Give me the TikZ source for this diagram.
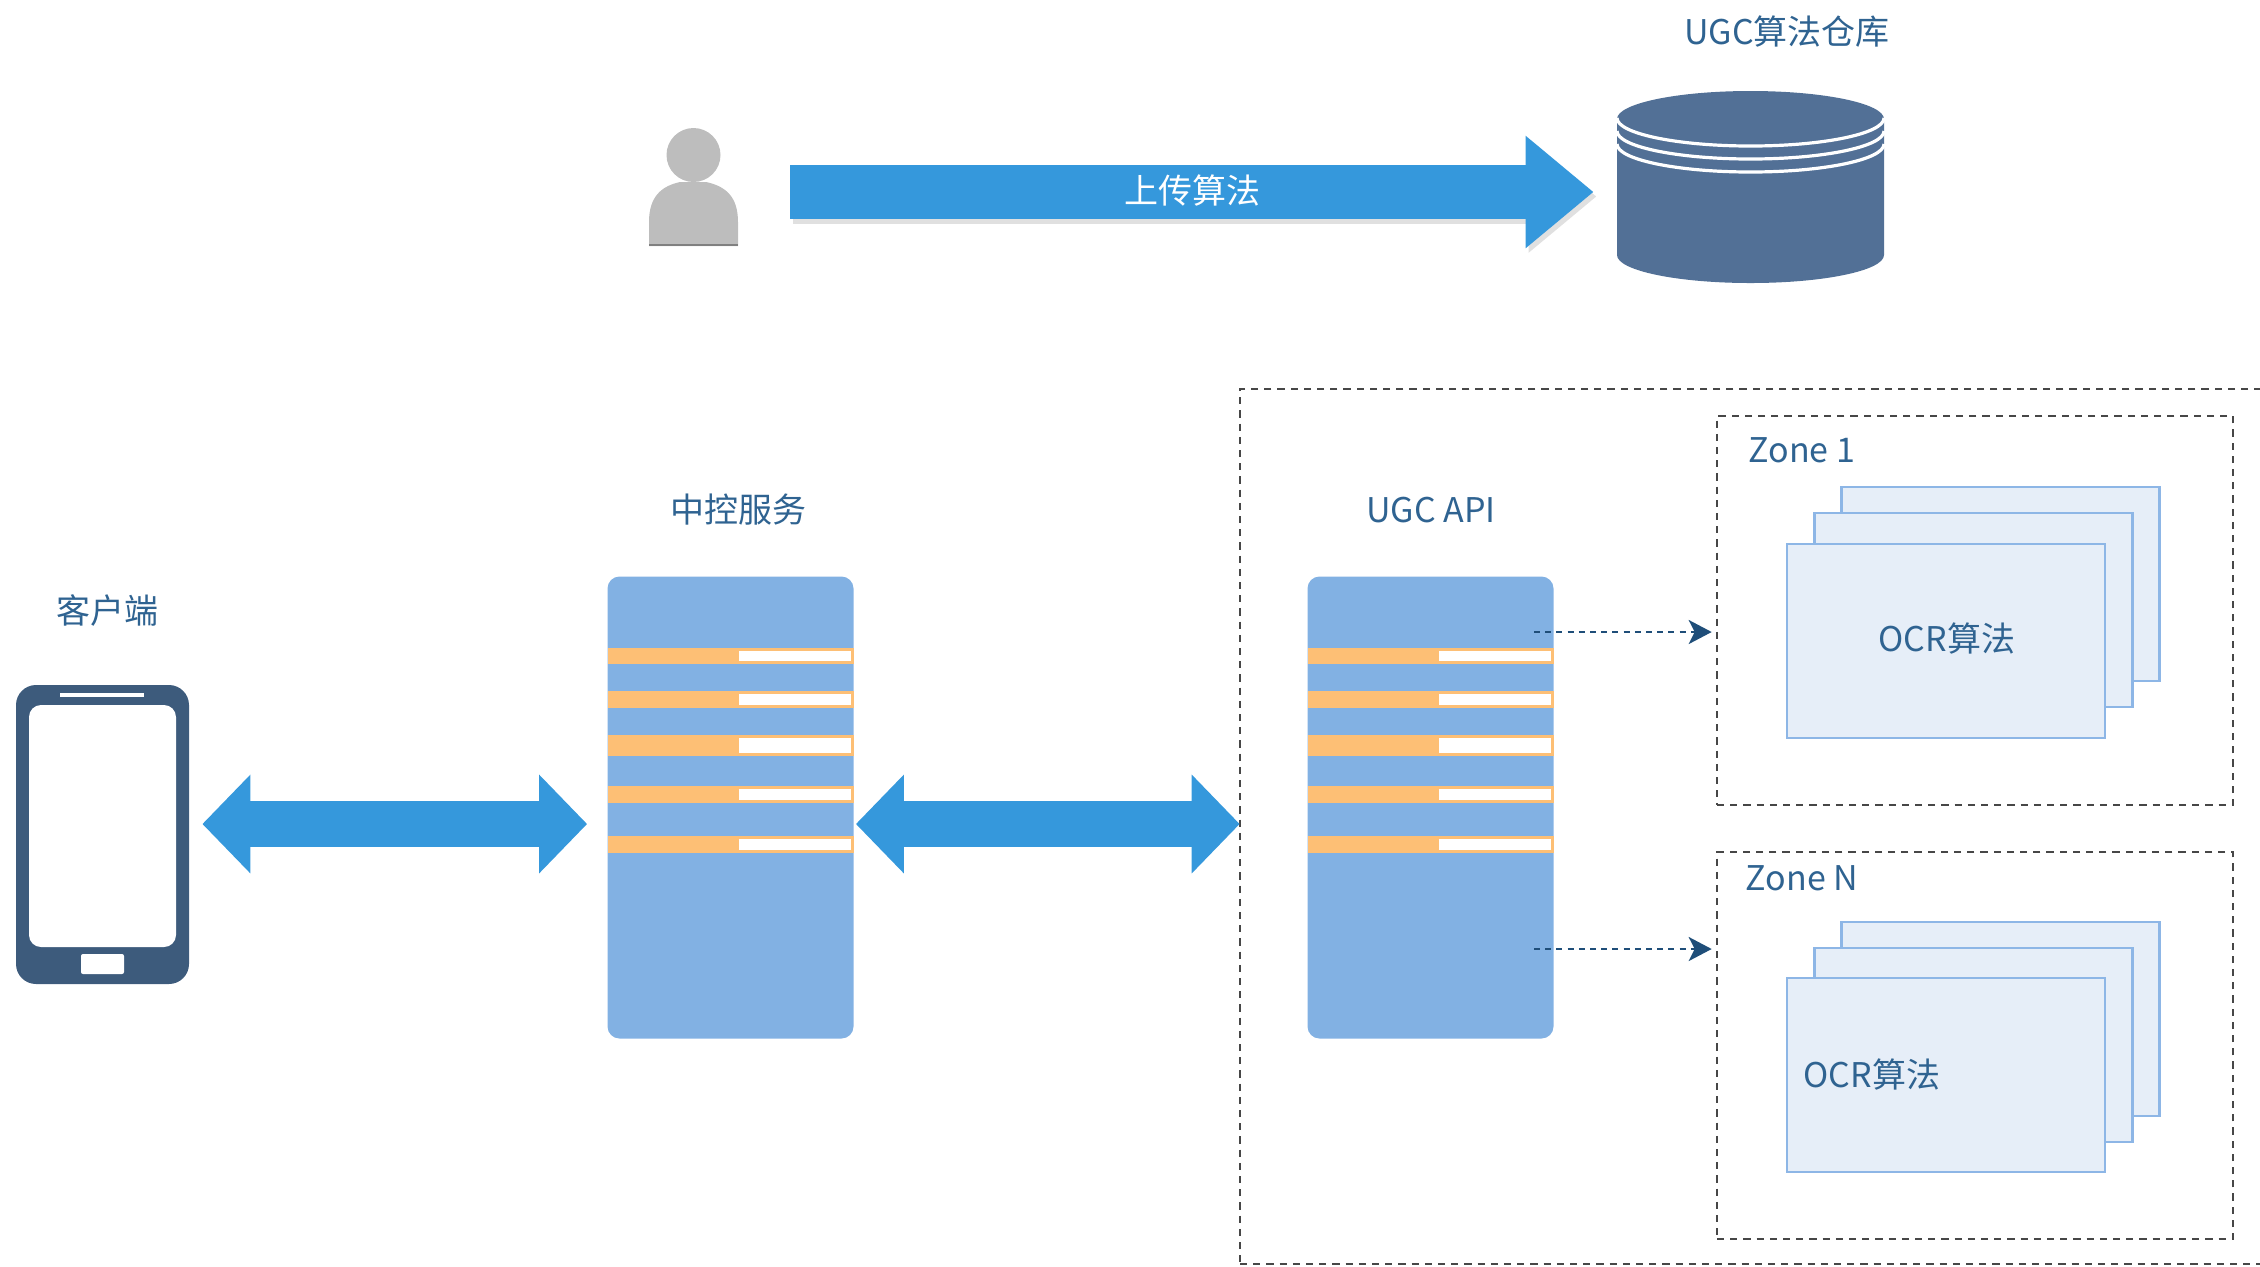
\documentclass[tikz,border=0pt]{standalone}
\usepackage{fontspec}
\setmainfont{Noto Sans CJK SC}
\usetikzlibrary{arrows.meta,shapes.geometric}
\definecolor{linkblue}{HTML}{3598DC}
\definecolor{srvblue}{HTML}{82B1E3}
\definecolor{barorange}{HTML}{FDBF75}
\definecolor{repoblue}{HTML}{527096}
\definecolor{phoneblue}{HTML}{3D5B7C}
\definecolor{txtblue}{HTML}{2F6391}
\definecolor{cardfill}{HTML}{E6EEF8}
\definecolor{cardline}{HTML}{8DB6E6}
\definecolor{tipblue}{HTML}{1F4E79}
\definecolor{usergray}{HTML}{BDBDBD}

\begin{document}
\begin{tikzpicture}[x=0.5pt,y=-0.5pt,node distance=350pt,
    font=\fontsize{17}{20}\selectfont,
    lbl/.style={text=txtblue,inner sep=0pt},
    server/.style={fill=srvblue,rounded corners=6pt,minimum width=123pt,minimum height=231pt,inner sep=0pt},
    bar/.style={fill=barorange,minimum width=123pt,inner sep=0pt},
    slot/.style={fill=white,minimum width=56pt,inner sep=0pt},
    box/.style={draw=black!72,line width=1.3pt,dash pattern=on 3.6pt off 3pt,inner sep=0pt},
    zone/.style={box,minimum width=258pt},
    card/.style={draw=cardline,fill=cardfill,line width=1.2pt,minimum width=159pt,minimum height=97pt,inner sep=0pt,text=txtblue},
    link/.style={draw=linkblue,line width=23pt},
    upload/.style={line width=27pt,-{Triangle[length=34pt,width=54pt]}},
    both/.style={link,{Triangle[length=24pt,width=48pt]}-{Triangle[length=24pt,width=48pt]}},
    call/.style={draw=tipblue,line width=1.4pt,dash pattern=on 3pt off 2.6pt,-{Stealth[length=11.5pt,width=12pt,inset=3pt]}}]

  \clip[use as bounding box] (0,0) rectangle (2260,1266);

  % user and upload
  \node[minimum width=44.5pt,minimum height=59pt,inner sep=0pt] (user) at (693.5,187.5) {};
  \node[circle,fill=usergray,minimum size=27pt,inner sep=0pt] (head) at (693.5,155) {};
  \fill[usergray] (649,246) -- (649,222) .. controls (649,196) and (662,186) .. (680,182)
    -- (706,182) .. controls (725,186) and (738,196) .. (738,222) -- (738,246) -- cycle;
  \draw[black!50,line width=1pt] (649,245) -- (738,245);

  \node[minimum width=133.5pt,minimum height=95.5pt,inner sep=0pt] (repo) at (1750.5,187.5) {};
  \fill[repoblue] (1617,119) arc[start angle=180,end angle=0,x radius=66.75pt,y radius=14pt]
    -- (1884,255) arc[start angle=0,end angle=-180,x radius=66.75pt,y radius=14pt] -- cycle;
  \foreach \y in {118,131,144}
    \draw[white,line width=1.6pt] (1617,\y) arc[start angle=180,end angle=360,x radius=66.75pt,y radius=14pt];
  \node[lbl] (repolbl) at (1787,32) {UGC算法仓库};

  \draw[upload,draw=black!12,shorten <=26pt,shorten >=11.5pt] ([xshift=1.5pt,yshift=-4.5pt]user.east) -- ([xshift=1.5pt,yshift=-4.5pt]repo.west);
  \draw[upload,draw=linkblue,shorten <=26pt,shorten >=11.5pt] ([yshift=-2.25pt]user.east) -- ([yshift=-2.25pt]repo.west);
  \node[text=white,inner sep=0pt] (uplbl) at (1192,190) {上传算法};

  % phone
  \node[fill=phoneblue,rounded corners=10pt,minimum width=86.5pt,minimum height=149.5pt,inner sep=0pt] (phone) at (102.5,834.5) {};
  \node[fill=white,rounded corners=6pt,minimum width=73.5pt,minimum height=121pt,inner sep=0pt] (screen) at (102.5,826) {};
  \node[fill=white,minimum width=42pt,minimum height=1.6pt,inner sep=0pt] (speaker) at (102,695) {};
  \node[fill=white,rounded corners=1pt,minimum width=21.5pt,minimum height=10pt,inner sep=0pt] (homekey) at (102.5,964) {};
  \node[lbl] (phonelbl) at (107,611) {客户端};

  % servers
  \node[server] (ctrl) at (730.5,807.5) {};
  \node[server] (api) [right of=ctrl] {};
  \node[lbl] (ctrllbl) at (738,510) {中控服务};
  \node[lbl] (apilbl) at (1431,510) {UGC API};
  \foreach \s/\x in {ctrl/730.5,api/1430.5}
    \foreach \y/\h [count=\i] in {656/16,699.5/17,745.5/21,794.5/17,844.5/17} {
      \node[bar,minimum height=\h*0.5pt] (\s bar\i) at (\x,\y) {};
      \node[slot,minimum height=\h*0.5pt-3pt] (\s slot\i) at (\x+64.5,\y) {};
    }

  % zones
  \node[box,minimum width=525pt,minimum height=437.5pt] (cloud) at (1765,826.5) {};
  \node[zone,minimum height=194.5pt] (zone1) at (1975,610.5) {};
  \node[zone,minimum height=193.5pt] (zoneN) at (1975,1045.5) {};
  \node[lbl] (zone1lbl) at (1802,450) {Zone 1};
  \node[lbl] (zoneNlbl) at (1802,878) {Zone N};

  \foreach \z/\d in {a/0,b/435} {
    \node[card] (back\z) at (2000.5,584+\d) {};
    \node[card] (mid\z) at (1973.5,610+\d) {};
  }
  \node[card] (fronta) at (1946,641) {};
  \node[card] (frontb) at (1946,1075) {};
  \node[lbl] (ocra) at (1947,638) {OCR算法};
  \node[lbl] (ocrb) at (1872,1074) {OCR算法};

  % links
  \coordinate (lnk) at (0,824);
  \coordinate (hook1) at (1534,632);
  \coordinate (hookN) at (1534,949);
  \draw[both,shorten <=6.5pt,shorten >=10pt] (phone.east |- lnk) -- (ctrl.west |- lnk);
  \draw[both,shorten <=1pt,shorten >=-0.5pt] (ctrl.east |- lnk) -- (cloud.west |- lnk);
  \draw[call,shorten >=2pt] (hook1) -- (zone1.west |- hook1);
  \draw[call,shorten >=2pt] (hookN) -- (zoneN.west |- hookN);
\end{tikzpicture}
\end{document}
